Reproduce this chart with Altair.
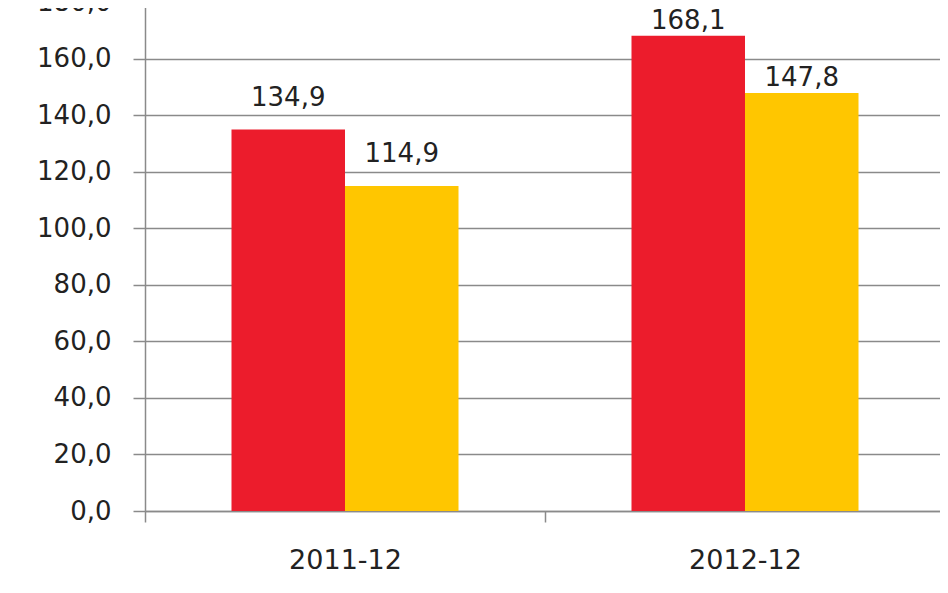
import altair as alt
import pandas as pd

categories = ["2011-12", "2011-12", "2012-12", "2012-12"]
series = ["Seria 1", "Seria 2", "Seria 1", "Seria 2"]
values = [134.9, 114.9, 168.1, 147.8]
labels = ["134,9", "114,9", "168,1", "147,8"]
y_ticks = [0, 20, 40, 60, 80, 100, 120, 140, 160, 180]
series_colors = ["#EC1C2C", "#FFC600"]

df = pd.DataFrame({"period": categories, "series": series, "value": values, "label": labels})

FONT = "DejaVu Sans"

x = alt.X("period:N", title=None,
          scale=alt.Scale(paddingInner=0, paddingOuter=0),
          axis=alt.Axis(labelAngle=0, labelFont=FONT, labelFontSize=27, labelColor="#222222",
                        labelBaseline="alphabetic", labelPadding=46,
                        tickBand="extent", tickSize=11, tickColor="#8a8a8a", tickWidth=1.5,
                        domainColor="#8a8a8a", domainWidth=1.5, grid=False))
xo = alt.XOffset("series:N", scale=alt.Scale(paddingInner=0, paddingOuter=0.762))
y = alt.Y("value:Q", title=None,
          scale=alt.Scale(domain=[0, 180], nice=False),
          axis=alt.Axis(values=y_ticks,
                        labelExpr="replace(format(datum.value, '.1f'), '.', ',')",
                        labelFont=FONT, labelFontSize=26, labelColor="#222222", labelPadding=22,
                        tickSize=12, tickColor="#8a8a8a", tickWidth=1.5,
                        domainColor="#8a8a8a", domainWidth=1.5,
                        grid=True, gridColor="#8a8a8a", gridWidth=1.5))

base = alt.Chart(df)
bars = base.mark_bar().encode(
    x=x, xOffset=xo, y=y,
    color=alt.Color("series:N", scale=alt.Scale(range=series_colors), legend=None),
)
text_2011 = base.transform_filter(alt.datum.period == "2011-12").mark_text(
    font=FONT, fontSize=26, color="#222222", baseline="alphabetic", dy=-24
).encode(x=x, xOffset=xo, y=y, text="label:N")
text_2012 = base.transform_filter(alt.datum.period == "2012-12").mark_text(
    font=FONT, fontSize=26, color="#222222", baseline="alphabetic", dy=-7
).encode(x=x, xOffset=xo, y=y, text="label:N")

chart = (bars + text_2011 + text_2012).properties(
    width=800, height=509,
    autosize=alt.AutoSizeParams(type="none"),
    padding={"left": 137, "top": -6, "right": -5, "bottom": 72},
).configure_view(stroke=None)

chart.save("out.html", embed_options={"renderer": "svg", "actions": False})
